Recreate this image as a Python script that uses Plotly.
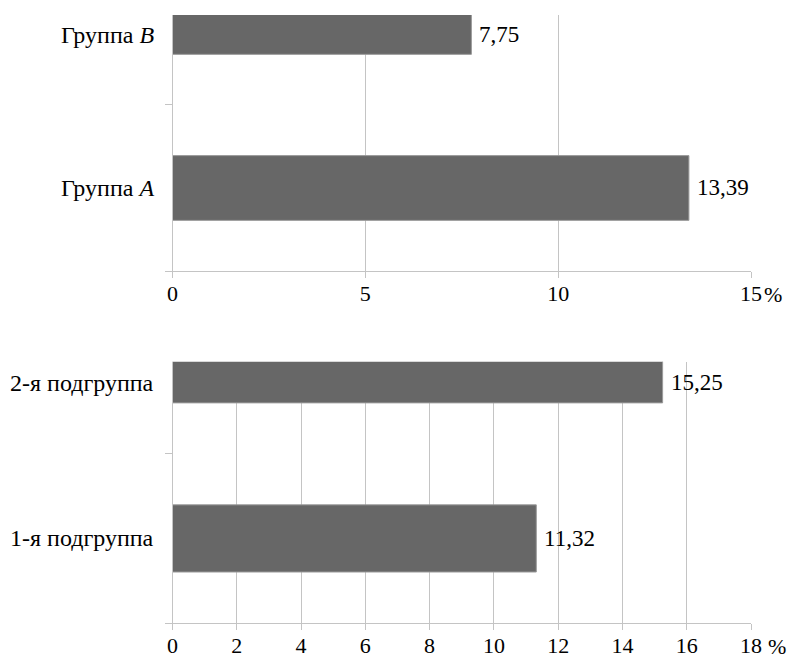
import plotly.graph_objects as go

# Upper panel: groups
groups = ["Группа <i>A</i>", "Группа <i>B</i>"]
group_values = [13.39, 7.75]
group_ticks = [0, 5, 10, 15]

# Lower panel: subgroups
subgroups = ["1-я подгруппа", "2-я подгруппа"]
subgroup_values = [11.32, 15.25]
subgroup_ticks = [0, 2, 4, 6, 8, 10, 12, 14, 16, 18]

W, H = 788, 659
FONT = "Liberation Serif, Times New Roman, serif"
CAT_FS = 24
VAL_FS = 23
TICK_FS = 22
BAR = "#676767"
GRID = "#c4c4c4"

x0, x1 = 172.5 / W, 751 / W
top_dom = [1 - 271 / H, 1 - 15 / H]
bot_dom = [1 - 623 / H, 1 - 361.7 / H]


def fmt(v):
    return f"{v:.2f}".replace(".", ",")


fig = go.Figure()
fig.add_trace(go.Bar(
    x=group_values, y=list(range(len(groups))), orientation="h",
    xaxis="x", yaxis="y", marker=dict(color=BAR, line=dict(color="#9a9a9a", width=1)),
    width=0.39, showlegend=False, hoverinfo="skip",
))
fig.add_trace(go.Bar(
    x=subgroup_values, y=list(range(len(subgroups))), orientation="h",
    xaxis="x2", yaxis="y2", marker=dict(color=BAR, line=dict(color="#9a9a9a", width=1)),
    width=0.397, showlegend=False, hoverinfo="skip",
))

xcommon = dict(
    showgrid=True, gridcolor=GRID, gridwidth=1,
    showline=True, linecolor=GRID, linewidth=1,
    ticks="outside", ticklen=6, tickcolor=GRID, ticklabelstandoff=-3,
    tickfont=dict(family=FONT, size=TICK_FS, color="black"),
    zeroline=False, fixedrange=True, automargin=False,
)
ycommon = dict(
    showgrid=False, showline=True, linecolor=GRID, linewidth=1,
    ticks="outside", ticklen=7, tickcolor=GRID,
    tickmode="array", tickvals=[-0.5, 0.5], showticklabels=False,
    zeroline=False, fixedrange=True, automargin=False,
)

fig.update_layout(
    width=W, height=H, margin=dict(l=0, r=0, t=0, b=0, pad=0),
    paper_bgcolor="white", plot_bgcolor="white",
    font=dict(family=FONT, size=TICK_FS, color="black"),
    xaxis=dict(domain=[x0, x1], anchor="y", range=[0, 15],
               tickmode="array", tickvals=group_ticks,
               ticktext=[str(t) for t in group_ticks], **xcommon),
    yaxis=dict(domain=top_dom, anchor="x", range=[-0.5, 1.042], **ycommon),
    xaxis2=dict(domain=[x0, x1], anchor="y2", range=[0, 18],
                tickmode="array", tickvals=subgroup_ticks,
                ticktext=[str(t) for t in subgroup_ticks], **xcommon),
    yaxis2=dict(domain=bot_dom, anchor="x2", range=[-0.5, 1.045], **ycommon),
)

ann = []
# category labels and value labels, centred on the visible part of each bar
for names, vals, xr, yr in [(groups, group_values, "x", "y"),
                            (subgroups, subgroup_values, "x2", "y2")]:
    for i, (n, v) in enumerate(zip(names, vals)):
        yy = i if i == 0 else 0.922
        ann.append(dict(x=0, y=yy, xref=xr, yref=yr, text=n, showarrow=False,
                        xanchor="right", yanchor="middle", xshift=-17,
                        font=dict(family=FONT, size=CAT_FS, color="black")))
        ann.append(dict(x=v, y=yy, xref=xr, yref=yr, text=fmt(v), showarrow=False,
                        xanchor="left", yanchor="middle", xshift=6,
                        font=dict(family=FONT, size=VAL_FS, color="black")))

# percent signs after the last tick labels
ann.append(dict(x=group_ticks[-1], y=top_dom[0], xref="x", yref="paper", text="%",
                showarrow=False, xanchor="left", yanchor="middle", xshift=11, yshift=-23,
                font=dict(family=FONT, size=TICK_FS, color="black")))
ann.append(dict(x=subgroup_ticks[-1], y=bot_dom[0], xref="x2", yref="paper", text="%",
                showarrow=False, xanchor="left", yanchor="middle", xshift=15, yshift=-23,
                font=dict(family=FONT, size=TICK_FS, color="black")))
fig.update_layout(annotations=ann)

fig.write_html("out.html")
